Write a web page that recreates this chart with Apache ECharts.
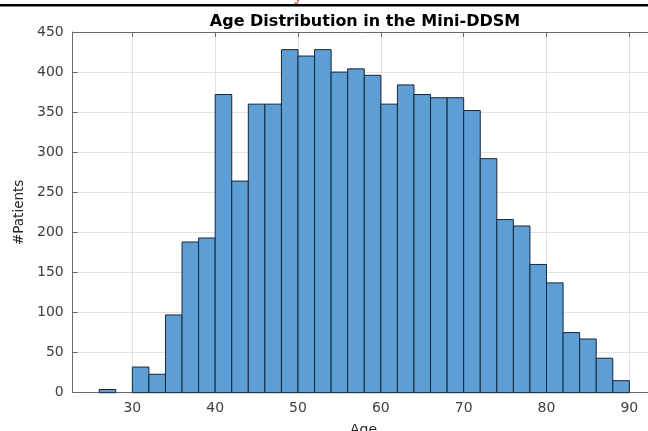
<!DOCTYPE html>
<html>
<head>
<meta charset="utf-8">
<script src="https://cdn.jsdelivr.net/npm/echarts@6/dist/echarts.min.js"></script>
<style>
html,body{margin:0;padding:0;background:#fff;}
#chart{width:648px;height:431px;}
</style>
</head>
<body>
<div id="chart"></div>
<script>
// Histogram bins (left edges, width 2 years) and patient counts
const binStarts = [26,28,30,32,34,36,38,40,42,44,46,48,50,52,54,56,58,60,62,64,66,68,70,72,74,76,78,80,82,84,86,88];
const binWidth = 2;
const counts = [4,0,32,23,97,188,193,372,264,360,360,428,420,428,400,404,396,360,384,372,368,368,352,292,216,208,160,137,75,67,43,15];
const xTicks = [30,40,50,60,70,80,90];
const yTicks = [0,50,100,150,200,250,300,350,400,450];
const titleText = 'Age Distribution in the Mini-DDSM';
const xName = 'Age';
const yName = '#Patients';

const data = binStarts.map((s, i) => [s, s + binWidth, counts[i]]);
const FONT = '"DejaVu Sans", "Liberation Sans", Arial, sans-serif';

const chart = echarts.init(document.getElementById('chart'), null, {renderer: 'canvas'});
chart.setOption({
  animation: false,
  backgroundColor: '#ffffff',
  title: {
    text: titleText,
    left: 360,
    top: 9,
    textAlign: 'center',
    textStyle: {fontFamily: FONT, fontSize: 16, fontWeight: 'bold', color: '#000'}
  },
  graphic: [
    {type: 'rect', shape: {x: 0, y: 4, width: 648, height: 2.5}, style: {fill: '#000'}, z: 100},
    {type: 'text', x: 298, y: 4, style: {text: 'y', fill: '#e00000', font: 'bold 14px "Liberation Serif", serif', textAlign: 'center', textVerticalAlign: 'bottom'}, z: 99}
  ],
  grid: {left: 72.7, top: 32, width: 581.5, height: 360.7, containLabel: false, outerBoundsMode: 'none'},
  xAxis: [{
    type: 'value',
    min: 22.8,
    max: 93,
    minInterval: 10,
    maxInterval: 10,
    position: 'bottom',
    name: xName,
    nameLocation: 'middle',
    nameGap: 31,
    nameTextStyle: {fontFamily: FONT, fontSize: 14, color: '#262626', verticalAlign: 'top'},
    axisLine: {show: true, lineStyle: {color: '#6a6a6a', width: 1}},
    axisTick: {show: true, inside: true, length: 5, lineStyle: {color: '#6a6a6a'}},
    axisLabel: {
      fontFamily: FONT, fontSize: 14, color: '#404040', margin: 9,
      formatter: v => (xTicks.indexOf(Math.round(v * 1000) / 1000) >= 0 ? String(v) : '')
    },
    splitLine: {show: true, lineStyle: {color: '#e2e2e2', width: 1}}
  }, {
    type: 'value',
    min: 22.8,
    max: 93,
    minInterval: 10,
    maxInterval: 10,
    position: 'top',
    axisLine: {show: true, lineStyle: {color: '#6a6a6a', width: 1}},
    axisTick: {show: true, inside: true, length: 5, lineStyle: {color: '#6a6a6a'}},
    axisLabel: {show: false},
    splitLine: {show: false}
  }],
  yAxis: {
    type: 'value',
    min: 0,
    max: 450,
    interval: 50,
    name: yName,
    nameLocation: 'middle',
    nameGap: 46,
    nameTextStyle: {fontFamily: FONT, fontSize: 13.5, color: '#262626'},
    axisLine: {show: true, lineStyle: {color: '#6a6a6a', width: 1}},
    axisTick: {show: true, inside: true, length: 5, lineStyle: {color: '#6a6a6a'}},
    axisLabel: {fontFamily: FONT, fontSize: 14, color: '#404040', margin: 9,
      formatter: v => (yTicks.indexOf(v) >= 0 ? String(v) : '')},
    splitLine: {show: true, lineStyle: {color: '#e2e2e2', width: 1}}
  },
  series: [{
    type: 'custom',
    xAxisIndex: 0,
    yAxisIndex: 0,
    data: data,
    encode: {x: [0, 1], y: 2},
    renderItem: function (params, api) {
      const p0 = api.coord([api.value(0), 0]);
      const p1 = api.coord([api.value(1), api.value(2)]);
      const h = p0[1] - p1[1];
      if (h <= 0) return null;
      return {
        type: 'rect',
        shape: {x: p0[0], y: p1[1], width: p1[0] - p0[0], height: h},
        style: {fill: '#5d9fd5', stroke: '#16263a', lineWidth: 1}
      };
    },
    z: 3
  }]
});
</script>
</body>
</html>
